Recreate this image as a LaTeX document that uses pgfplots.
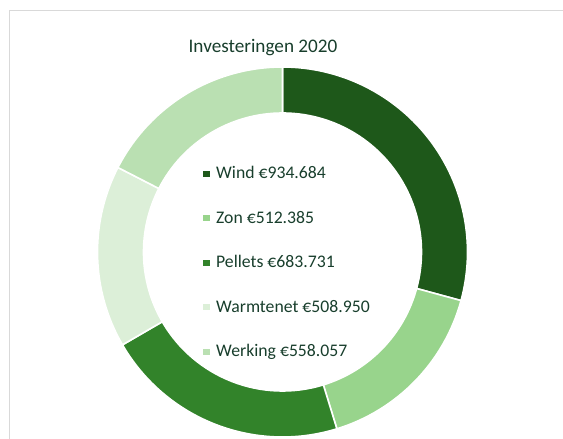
\documentclass[border=0pt]{standalone}
\usepackage{fontspec}
\setmainfont{Carlito}
\usepackage{pgfplots}
\usepackage{pgfplotstable}
\pgfplotsset{compat=1.18}

\definecolor{slice0}{RGB}{30,88,26}
\definecolor{slice1}{RGB}{152,212,140}
\definecolor{slice2}{RGB}{50,131,42}
\definecolor{slice3}{RGB}{220,239,216}
\definecolor{slice4}{RGB}{186,224,178}
\definecolor{txtcol}{RGB}{24,62,44}
\definecolor{framecol}{RGB}{217,217,217}

% investments 2020, in euro
\pgfplotstableread{
name value
Wind 934684
Zon 512385
Pellets 683731
Warmtenet 508950
Werking 558057
}\investdata

\begin{document}
\begin{tikzpicture}
  \useasboundingbox (0,0) rectangle (563pt,439pt);
  \def\total{0}
  \pgfplotstableforeachcolumnelement{value}\of\investdata\as\v{%
    \xdef\total{\fpeval{\total+\v}}}
  \begin{axis}[
    at={(0,0)}, anchor=origin,
    x=1pt, y=1pt,
    xmin=0, xmax=563, ymin=0, ymax=439,
    hide axis, clip=false,
  ]
    % chart area frame (cropped)
    \draw[framecol, line width=1pt] (axis cs:9,0) -- (axis cs:9,428) -- (axis cs:563,428);
    % donut ring, clockwise from the top
    \xdef\angA{90}
    \pgfplotstableforeachcolumnelement{value}\of\investdata\as\v{%
      \xdef\angB{\fpeval{\angA-360*\v/\total}}%
      \edef\cmd{\noexpand\fill[fill=slice\pgfplotstablerow, draw=white, line width=1.6pt]
        (axis cs:{\fpeval{282.5+185*cosd(\angA)}},{\fpeval{187+185*sind(\angA)}})
        arc[start angle=\angA, end angle=\angB, radius=185pt]
        -- (axis cs:{\fpeval{282.5+139*cosd(\angB)}},{\fpeval{187+139*sind(\angB)}})
        arc[start angle=\angB, end angle=\angA, radius=139pt] -- cycle;}%
      \cmd
      \xdef\angA{\angB}%
    }
    % title
    \node[txtcol, anchor=base, font=\fontsize{19.2}{22}\selectfont]
      at (axis cs:263,386) {Investeringen 2020};
    % legend in the hole
    \xdef\legy{260}
    \pgfplotstableforeachcolumnelement{name}\of\investdata\as\nm{%
      \pgfplotstablegetelem{\pgfplotstablerow}{value}\of\investdata
      \edef\cmd{\noexpand\fill[slice\pgfplotstablerow]
          (axis cs:203,{\legy+2}) rectangle (axis cs:210,{\legy+8});
        \noexpand\node[txtcol, anchor=base west, inner sep=0pt,
          font=\noexpand\fontsize{17.7}{20}\noexpand\selectfont]
          at (axis cs:216,\legy) {\nm\space €\noexpand\pgfmathprintnumber[fixed, precision=0,
            1000 sep={.}, assume math mode=true]{\pgfplotsretval}};}%
      \cmd
      \xdef\legy{\fpeval{\legy-44.5}}%
    }
  \end{axis}
\end{tikzpicture}
\end{document}
